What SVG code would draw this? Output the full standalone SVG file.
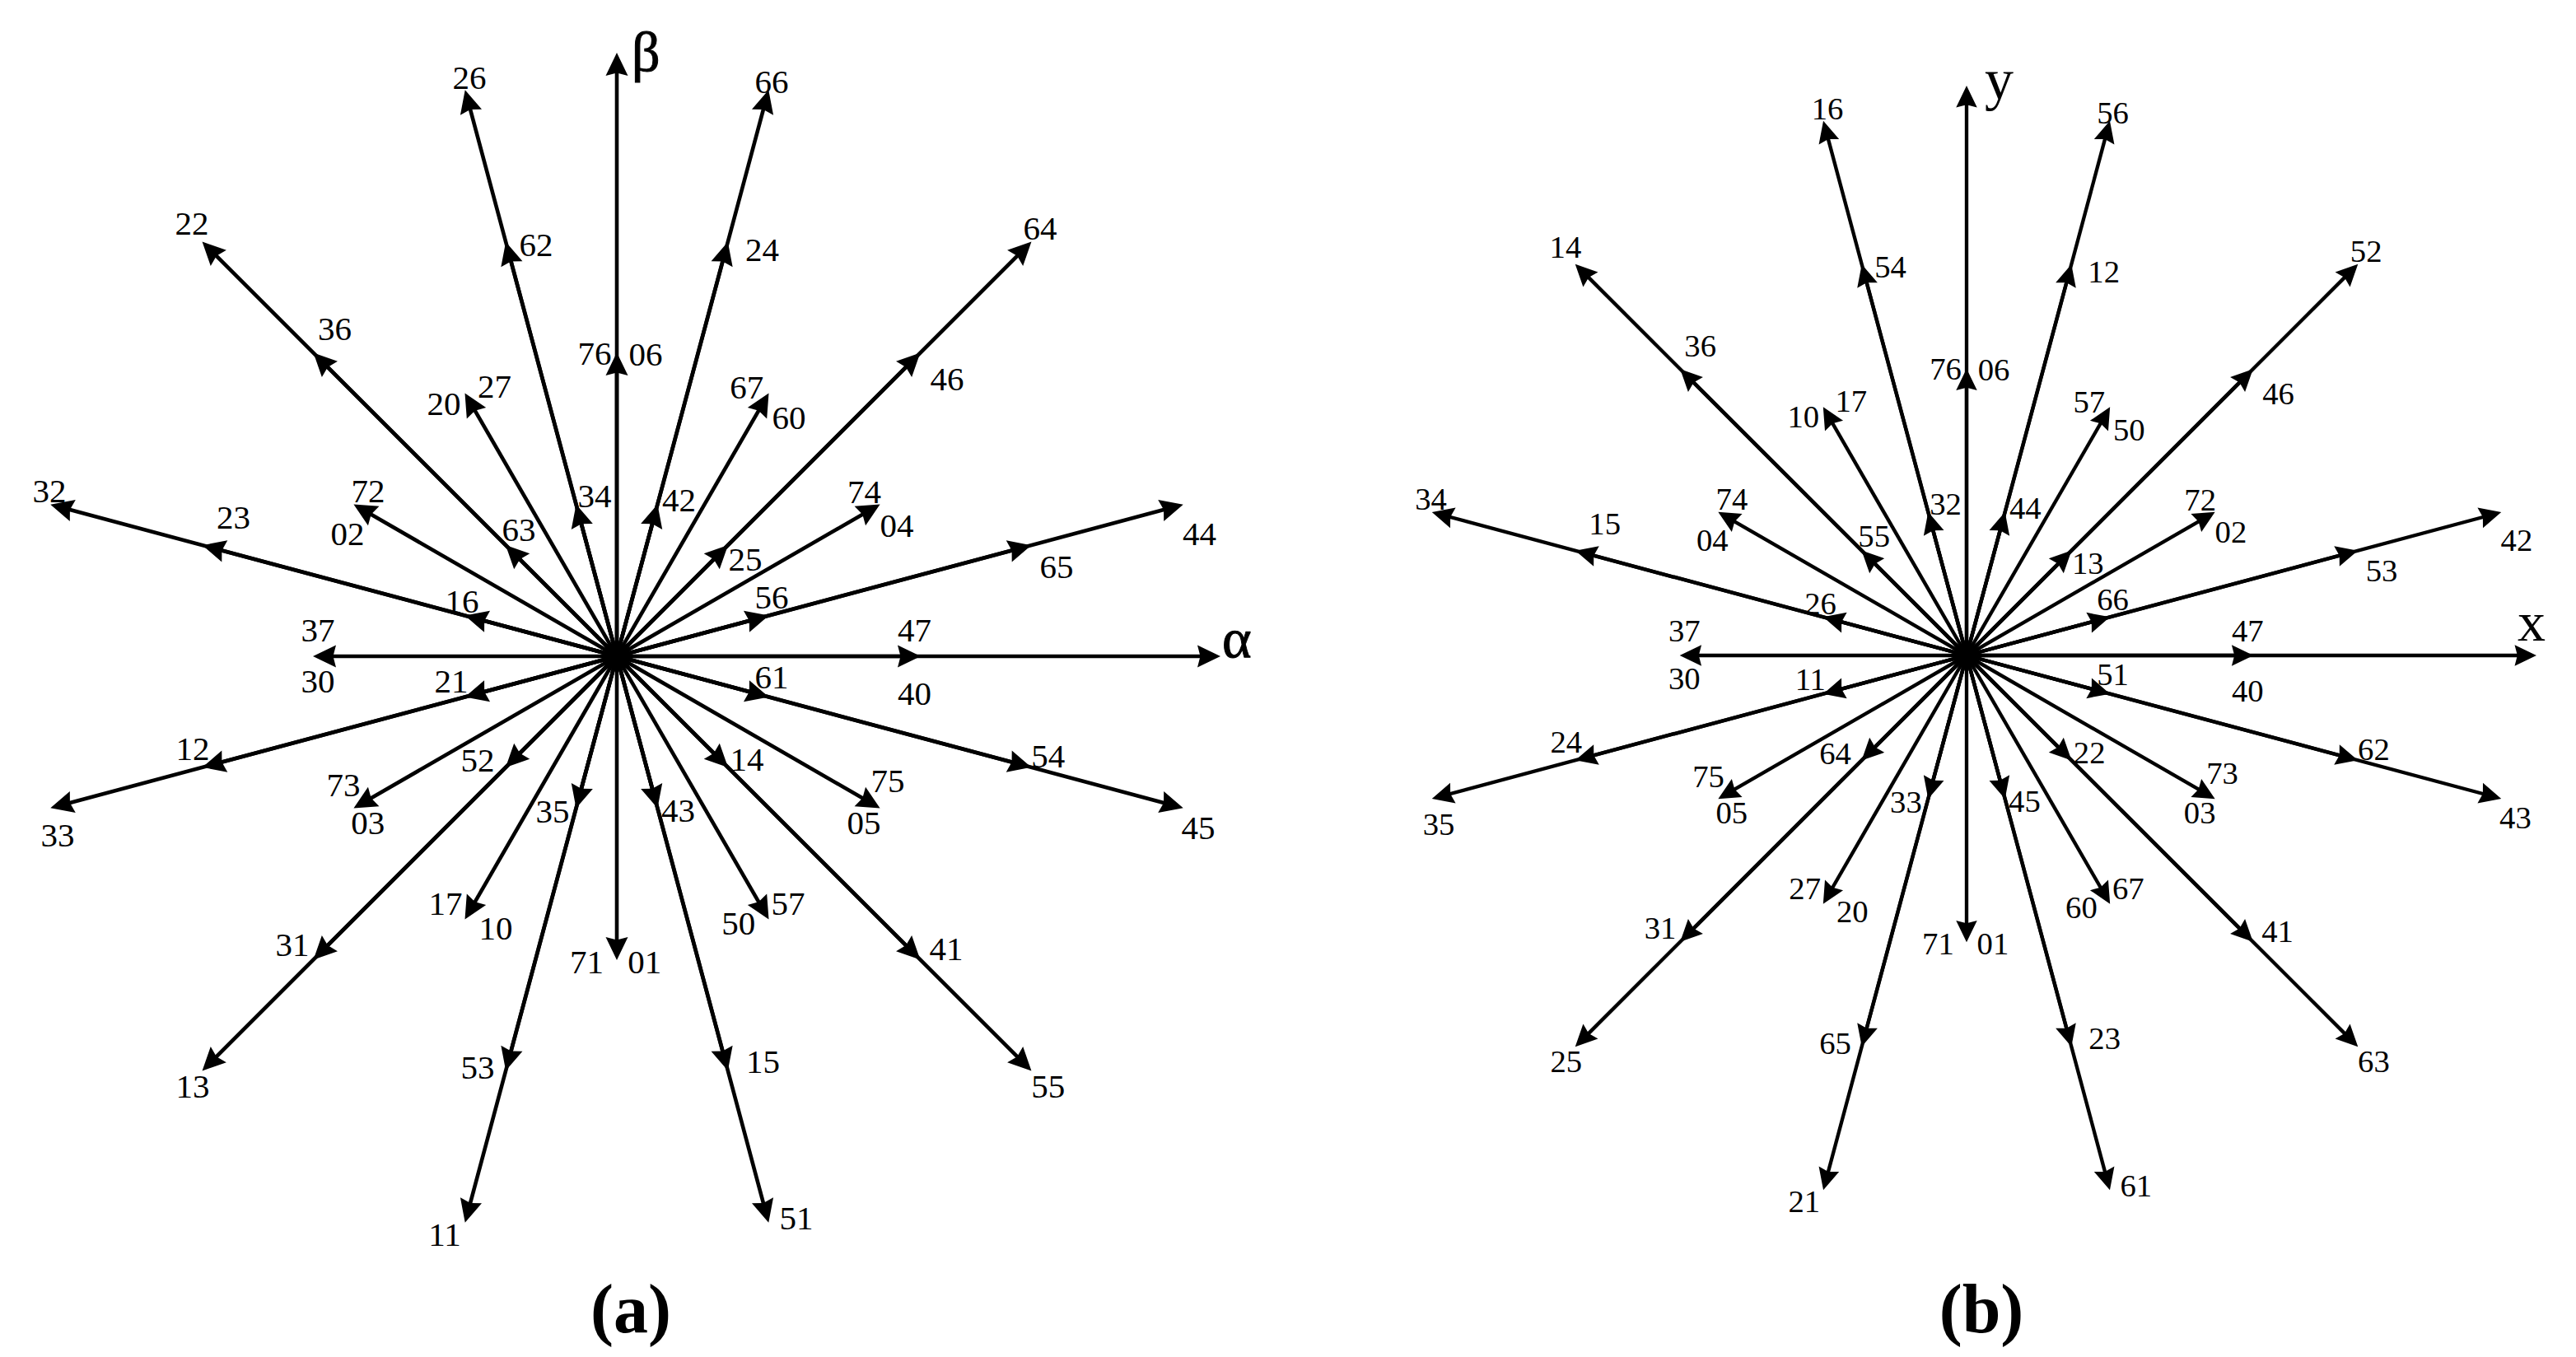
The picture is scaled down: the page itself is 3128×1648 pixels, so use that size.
<svg xmlns="http://www.w3.org/2000/svg" width="3128" height="1648" viewBox="0 0 3128 1648">
<style>
.lb text{font-family:"Liberation Serif","Times New Roman",serif;font-size:41px;text-anchor:middle;fill:#000}
.ax{font-family:"Liberation Serif","Times New Roman",serif;fill:#000}
.gk{stroke:#000;stroke-width:1}
.cap{font-family:"Liberation Serif","Times New Roman",serif;font-weight:bold;font-size:84px;text-anchor:middle;fill:#000}
</style>
<defs>
<marker id="ah" markerUnits="userSpaceOnUse" viewBox="-30 -15 40 30" markerWidth="40" markerHeight="30" refX="-10" refY="0" orient="auto">
<path d="M0,0 L-28,-13.5 L-24.5,0 L-28,13.5 Z" fill="#000"/>
</marker>
<g id="vL">
<line x1="0" y1="0" x2="181" y2="0" stroke="#000" stroke-width="4.6" marker-end="url(#ah)"/>
<line x1="0" y1="0" x2="511" y2="0" stroke="#000" stroke-width="4.6" marker-end="url(#ah)"/>
<line x1="0" y1="0" x2="702" y2="0" stroke="#000" stroke-width="4.6" marker-end="url(#ah)"/>
</g>
<g id="vS">
<line x1="0" y1="0" x2="359" y2="0" stroke="#000" stroke-width="4.6" marker-end="url(#ah)"/>
</g>
<g id="vA">
<line x1="0" y1="0" x2="723" y2="0" stroke="#000" stroke-width="4.6" marker-end="url(#ah)"/>
<line x1="0" y1="0" x2="359" y2="0" stroke="#000" stroke-width="4.6" marker-end="url(#ah)"/>
</g>
<g id="star">
<use href="#vA"/>
<use href="#vL" transform="rotate(-15)"/>
<use href="#vS" transform="rotate(-30)"/>
<use href="#vL" transform="rotate(-45)"/>
<use href="#vS" transform="rotate(-60)"/>
<use href="#vL" transform="rotate(-75)"/>
<use href="#vA" transform="rotate(-90)"/>
<use href="#vL" transform="rotate(-105)"/>
<use href="#vS" transform="rotate(-120)"/>
<use href="#vL" transform="rotate(-135)"/>
<use href="#vS" transform="rotate(-150)"/>
<use href="#vL" transform="rotate(-165)"/>
<use href="#vS" transform="rotate(-180)"/>
<use href="#vL" transform="rotate(-195)"/>
<use href="#vS" transform="rotate(-210)"/>
<use href="#vL" transform="rotate(-225)"/>
<use href="#vS" transform="rotate(-240)"/>
<use href="#vL" transform="rotate(-255)"/>
<use href="#vS" transform="rotate(-270)"/>
<use href="#vL" transform="rotate(-285)"/>
<use href="#vS" transform="rotate(-300)"/>
<use href="#vL" transform="rotate(-315)"/>
<use href="#vS" transform="rotate(-330)"/>
<use href="#vL" transform="rotate(-345)"/>
</g>
</defs>
<rect width="3128" height="1648" fill="#fff"/>

<g id="diagram-a" transform="translate(749,797)">
<g id="a-connectors"><use href="#star"/></g>
<g id="a-labels" class="lb">
<g id="a-26"><text x="-179" y="-689.5">26</text></g>
<g id="a-22"><text x="-516" y="-512">22</text></g>
<g id="a-62"><text x="-98" y="-486">62</text></g>
<g id="a-36"><text x="-342.5" y="-384.5">36</text></g>
<g id="a-76"><text x="-27" y="-354.4">76</text></g>
<g id="a-20"><text x="-210" y="-293">20</text></g>
<g id="a-27"><text x="-148.5" y="-314">27</text></g>
<g id="a-32"><text x="-689" y="-187">32</text></g>
<g id="a-72"><text x="-302" y="-187">72</text></g>
<g id="a-34"><text x="-27" y="-181.5">34</text></g>
<g id="a-23"><text x="-465.4" y="-155.4">23</text></g>
<g id="a-02"><text x="-327" y="-135">02</text></g>
<g id="a-63"><text x="-119" y="-140">63</text></g>
<g id="a-16"><text x="-188" y="-53.4">16</text></g>
<g id="a-37"><text x="-363" y="-18">37</text></g>
<g id="a-66"><text x="188" y="-684.5">66</text></g>
<g id="a-24"><text x="176.6" y="-480.4">24</text></g>
<g id="a-64"><text x="514" y="-506.5">64</text></g>
<g id="a-06"><text x="35" y="-353.4">06</text></g>
<g id="a-46"><text x="401" y="-323">46</text></g>
<g id="a-67"><text x="157.7" y="-313">67</text></g>
<g id="a-60"><text x="209" y="-276.4">60</text></g>
<g id="a-42"><text x="75.6" y="-176">42</text></g>
<g id="a-74"><text x="300.5" y="-186">74</text></g>
<g id="a-04"><text x="340" y="-145.2">04</text></g>
<g id="a-44"><text x="707.5" y="-135">44</text></g>
<g id="a-25"><text x="156" y="-104.4">25</text></g>
<g id="a-65"><text x="534" y="-95">65</text></g>
<g id="a-56"><text x="188" y="-58.5">56</text></g>
<g id="a-47"><text x="361.6" y="-18">47</text></g>
<g id="a-30"><text x="-363" y="43.5">30</text></g>
<g id="a-21"><text x="-201" y="44">21</text></g>
<g id="a-12"><text x="-515" y="125.5">12</text></g>
<g id="a-52"><text x="-169" y="140">52</text></g>
<g id="a-73"><text x="-332" y="169.8">73</text></g>
<g id="a-03"><text x="-302.2" y="216">03</text></g>
<g id="a-35"><text x="-78" y="202">35</text></g>
<g id="a-33"><text x="-679" y="231">33</text></g>
<g id="a-17"><text x="-208" y="314">17</text></g>
<g id="a-10"><text x="-147" y="343.6">10</text></g>
<g id="a-31"><text x="-394" y="364">31</text></g>
<g id="a-71"><text x="-36.6" y="385">71</text></g>
<g id="a-13"><text x="-515" y="535.7">13</text></g>
<g id="a-53"><text x="-169" y="513">53</text></g>
<g id="a-11"><text x="-209" y="716">11</text></g>
<g id="a-61"><text x="188" y="38.5">61</text></g>
<g id="a-40"><text x="361.6" y="59">40</text></g>
<g id="a-14"><text x="158" y="138.7">14</text></g>
<g id="a-54"><text x="523.8" y="135">54</text></g>
<g id="a-75"><text x="329" y="164.8">75</text></g>
<g id="a-05"><text x="300" y="216">05</text></g>
<g id="a-43"><text x="74.6" y="201">43</text></g>
<g id="a-45"><text x="706" y="222">45</text></g>
<g id="a-57"><text x="208" y="313.7">57</text></g>
<g id="a-50"><text x="147.7" y="338">50</text></g>
<g id="a-01"><text x="33.8" y="385">01</text></g>
<g id="a-41"><text x="400" y="369">41</text></g>
<g id="a-15"><text x="177.6" y="506">15</text></g>
<g id="a-55"><text x="523.8" y="535.7">55</text></g>
<g id="a-51"><text x="218" y="695.8">51</text></g>
</g>
</g>
<g id="a-axis-alpha"><text class="ax gk" x="1484" y="798" font-size="68">α</text></g>
<g id="a-axis-beta"><text class="ax gk" x="767" y="86" font-size="68">β</text></g>
<g id="a-caption"><text class="cap" x="766" y="1618">(a)</text></g>

<g id="diagram-b" transform="translate(2388,796) scale(0.944)">
<g id="b-connectors"><use href="#star"/></g>
<g id="b-labels" class="lb">
<g id="b-16"><text x="-179" y="-689.5">16</text></g>
<g id="b-14"><text x="-516" y="-512">14</text></g>
<g id="b-54"><text x="-98" y="-486">54</text></g>
<g id="b-36"><text x="-342.5" y="-384.5">36</text></g>
<g id="b-76"><text x="-27" y="-354.4">76</text></g>
<g id="b-10"><text x="-210" y="-293">10</text></g>
<g id="b-17"><text x="-148.5" y="-314">17</text></g>
<g id="b-34"><text x="-689" y="-187">34</text></g>
<g id="b-74"><text x="-302" y="-187">74</text></g>
<g id="b-32"><text x="-27" y="-181.5">32</text></g>
<g id="b-15"><text x="-465.4" y="-155.4">15</text></g>
<g id="b-04"><text x="-327" y="-135">04</text></g>
<g id="b-55"><text x="-119" y="-140">55</text></g>
<g id="b-26"><text x="-188" y="-53.4">26</text></g>
<g id="b-37"><text x="-363" y="-18">37</text></g>
<g id="b-56"><text x="188" y="-684.5">56</text></g>
<g id="b-12"><text x="176.6" y="-480.4">12</text></g>
<g id="b-52"><text x="514" y="-506.5">52</text></g>
<g id="b-06"><text x="35" y="-353.4">06</text></g>
<g id="b-46"><text x="401" y="-323">46</text></g>
<g id="b-57"><text x="157.7" y="-313">57</text></g>
<g id="b-50"><text x="209" y="-276.4">50</text></g>
<g id="b-44"><text x="75.6" y="-176">44</text></g>
<g id="b-72"><text x="300.5" y="-186">72</text></g>
<g id="b-02"><text x="340" y="-145.2">02</text></g>
<g id="b-42"><text x="707.5" y="-135">42</text></g>
<g id="b-13"><text x="156" y="-104.4">13</text></g>
<g id="b-53"><text x="534" y="-95">53</text></g>
<g id="b-66"><text x="188" y="-58.5">66</text></g>
<g id="b-47"><text x="361.6" y="-18">47</text></g>
<g id="b-30"><text x="-363" y="43.5">30</text></g>
<g id="b-11"><text x="-201" y="44">11</text></g>
<g id="b-24"><text x="-515" y="125.5">24</text></g>
<g id="b-64"><text x="-169" y="140">64</text></g>
<g id="b-75"><text x="-332" y="169.8">75</text></g>
<g id="b-05"><text x="-302.2" y="216">05</text></g>
<g id="b-33"><text x="-78" y="202">33</text></g>
<g id="b-35"><text x="-679" y="231">35</text></g>
<g id="b-27"><text x="-208" y="314">27</text></g>
<g id="b-20"><text x="-147" y="343.6">20</text></g>
<g id="b-31"><text x="-394" y="364">31</text></g>
<g id="b-71"><text x="-36.6" y="385">71</text></g>
<g id="b-25"><text x="-515" y="535.7">25</text></g>
<g id="b-65"><text x="-169" y="513">65</text></g>
<g id="b-21"><text x="-209" y="716">21</text></g>
<g id="b-51"><text x="188" y="38.5">51</text></g>
<g id="b-40"><text x="361.6" y="59">40</text></g>
<g id="b-22"><text x="158" y="138.7">22</text></g>
<g id="b-62"><text x="523.8" y="135">62</text></g>
<g id="b-73"><text x="329" y="164.8">73</text></g>
<g id="b-03"><text x="300" y="216">03</text></g>
<g id="b-45"><text x="74.6" y="201">45</text></g>
<g id="b-43"><text x="706" y="222">43</text></g>
<g id="b-67"><text x="208" y="313.7">67</text></g>
<g id="b-60"><text x="147.7" y="338">60</text></g>
<g id="b-01"><text x="33.8" y="385">01</text></g>
<g id="b-41"><text x="400" y="369">41</text></g>
<g id="b-23"><text x="177.6" y="506">23</text></g>
<g id="b-63"><text x="523.8" y="535.7">63</text></g>
<g id="b-61"><text x="218" y="695.8">61</text></g>
</g>
</g>
<g id="b-axis-x"><text class="ax" x="3057" y="778" font-size="68">x</text></g>
<g id="b-axis-y"><text class="ax" x="2410" y="120" font-size="70">y</text></g>
<g id="b-caption"><text class="cap" x="2406" y="1618">(b)</text></g>
</svg>
